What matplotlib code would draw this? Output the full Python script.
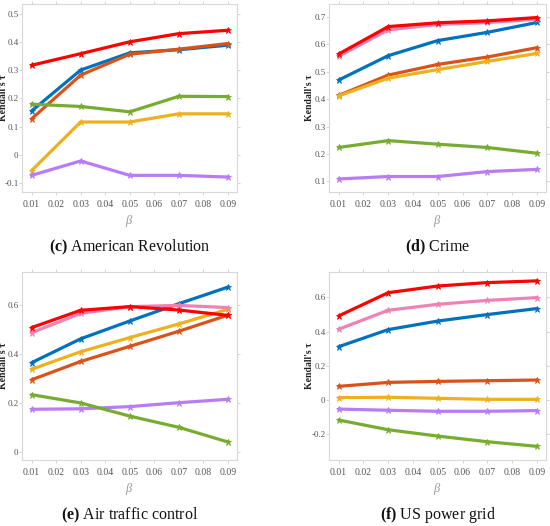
import matplotlib
matplotlib.use("Agg")
import matplotlib.pyplot as plt
import numpy as np

plt.rcParams['font.family'] = ['Liberation Serif', 'DejaVu Serif']
plt.rcParams['mathtext.fontset'] = 'custom'
plt.rcParams['mathtext.rm'] = 'Liberation Serif'
plt.rcParams['mathtext.bf'] = 'Liberation Serif:bold'
plt.rcParams['mathtext.it'] = 'Liberation Serif:italic'

beta = [0.01, 0.03, 0.05, 0.07, 0.09]
xticks = [0.01, 0.02, 0.03, 0.04, 0.05, 0.06, 0.07, 0.08, 0.09]

colors = {
    'blue': '#0072BD', 'orange': '#D95319', 'yellow': '#EDB120',
    'purple': '#B77CF6', 'green': '#77AC30', 'pink': '#EE82B4', 'red': '#FF0000',
}

# (c) American Revolution
c_blue = [0.155, 0.300, 0.361, 0.372, 0.388]
c_orange = [0.127, 0.282, 0.356, 0.374, 0.394]
c_yellow = [-0.056, 0.116, 0.116, 0.145, 0.145]
c_purple = [-0.073, -0.022, -0.073, -0.073, -0.079]
c_green = [0.179, 0.171, 0.152, 0.207, 0.206]
c_red = [0.317, 0.358, 0.400, 0.429, 0.441]

# (d) Crime
d_blue = [0.470, 0.559, 0.614, 0.644, 0.680]
d_orange = [0.414, 0.488, 0.527, 0.554, 0.588]
d_yellow = [0.412, 0.477, 0.508, 0.538, 0.567]
d_purple = [0.109, 0.118, 0.118, 0.136, 0.144]
d_green = [0.224, 0.249, 0.236, 0.224, 0.203]
d_pink = [0.557, 0.653, 0.673, 0.680, 0.692]
d_red = [0.565, 0.665, 0.679, 0.686, 0.698]

# (e) Air traffic control
e_blue = [0.365, 0.463, 0.536, 0.607, 0.675]
e_orange = [0.295, 0.370, 0.432, 0.494, 0.560]
e_yellow = [0.338, 0.410, 0.468, 0.524, 0.584]
e_purple = [0.174, 0.176, 0.185, 0.201, 0.215]
e_green = [0.234, 0.200, 0.146, 0.100, 0.040]
e_pink = [0.488, 0.567, 0.595, 0.600, 0.591]
e_red = [0.509, 0.580, 0.595, 0.581, 0.559]

# (f) US power grid
f_blue = [0.312, 0.412, 0.462, 0.500, 0.535]
f_orange = [0.080, 0.103, 0.109, 0.113, 0.117]
f_yellow = [0.014, 0.016, 0.010, 0.004, 0.004]
f_purple = [-0.053, -0.060, -0.066, -0.066, -0.062]
f_green = [-0.117, -0.174, -0.211, -0.244, -0.271]
f_pink = [0.414, 0.525, 0.560, 0.583, 0.599]
f_red = [0.492, 0.628, 0.667, 0.687, 0.697]

panels = [
    dict(letter='(c)', title='American Revolution', pos=(22, 4, 237, 192), ylab_right=8,
         series=[('blue', c_blue), ('orange', c_orange), ('yellow', c_yellow),
                 ('purple', c_purple), ('green', c_green), ('red', c_red)],
         ylim=(-0.132, 0.534), yticks=[-0.1, 0, 0.1, 0.2, 0.3, 0.4, 0.5],
         ylabels=['-0.1', '0', '0.1', '0.2', '0.3', '0.4', '0.5']),
    dict(letter='(d)', title='Crime', pos=(329, 4, 546, 192), ylab_right=314,
         series=[('blue', d_blue), ('orange', d_orange), ('yellow', d_yellow),
                 ('purple', d_purple), ('green', d_green), ('pink', d_pink), ('red', d_red)],
         ylim=(0.0615, 0.7475), yticks=[0.1, 0.2, 0.3, 0.4, 0.5, 0.6, 0.7],
         ylabels=['0.1', '0.2', '0.3', '0.4', '0.5', '0.6', '0.7']),
    dict(letter='(e)', title='Air traffic control', pos=(22, 272, 237, 460), ylab_right=8,
         series=[('blue', e_blue), ('orange', e_orange), ('yellow', e_yellow),
                 ('purple', e_purple), ('green', e_green), ('pink', e_pink), ('red', e_red)],
         ylim=(-0.034, 0.737), yticks=[0, 0.2, 0.4, 0.6],
         ylabels=['0', '0.2', '0.4', '0.6']),
    dict(letter='(f)', title='US power grid', pos=(329, 272, 546, 460), ylab_right=314,
         series=[('blue', f_blue), ('orange', f_orange), ('yellow', f_yellow),
                 ('purple', f_purple), ('green', f_green), ('pink', f_pink), ('red', f_red)],
         ylim=(-0.351, 0.749), yticks=[-0.2, 0, 0.2, 0.4, 0.6],
         ylabels=['-0.2', '0', '0.2', '0.4', '0.6']),
]

W, H = 550, 526
fig = plt.figure(figsize=(W / 100, H / 100), dpi=100)

for p in panels:
    l, t, r, b = p['pos']
    ax = fig.add_axes([l / W, 1 - b / H, (r - l) / W, (b - t) / H])
    for cname, vals in p['series']:
        ax.plot(beta, vals, color=colors[cname], lw=2.3, marker='*', ms=5,
                markeredgewidth=0.6, solid_capstyle='round')
    ax.set_xlim(0.0061, 0.0937)
    ax.set_ylim(*p['ylim'])
    ax.set_xticks(xticks)
    ax.set_xticklabels([f'{v:.2f}' for v in xticks])
    ax.set_yticks(p['yticks'])
    ax.set_yticklabels(p['ylabels'])
    for s in ax.spines.values():
        s.set_color('#d8d8d8')
        s.set_linewidth(0.8)
    ax.tick_params(axis='both', which='both', colors='#cccccc', labelcolor='#555555',
                   labelsize=6.5, length=2, width=0.6, direction='out', pad=0.5)
    ax.tick_params(axis='x', pad=4, labelsize=7)
    ax.tick_params(top=True, right=True)
    ax.set_xlabel(r'$\beta$', color='#999999', fontsize=9, labelpad=2.5)
    ax.set_ylabel("Kendall's τ", fontsize=7, fontweight='bold', color='#222222')
    ax.yaxis.set_label_coords(-(l - p['ylab_right']) / (r - l), 0.5)
    cx = (l + r) / 2 / W
    cy = 1 - (b + 55) / H
    fig.text(cx, cy, r'$\mathbf{' + p['letter'] + r'}$ ' + p['title'],
             ha='center', va='center', fontsize=11.5, color='#111111')

fig.savefig('out.png', dpi=100)
